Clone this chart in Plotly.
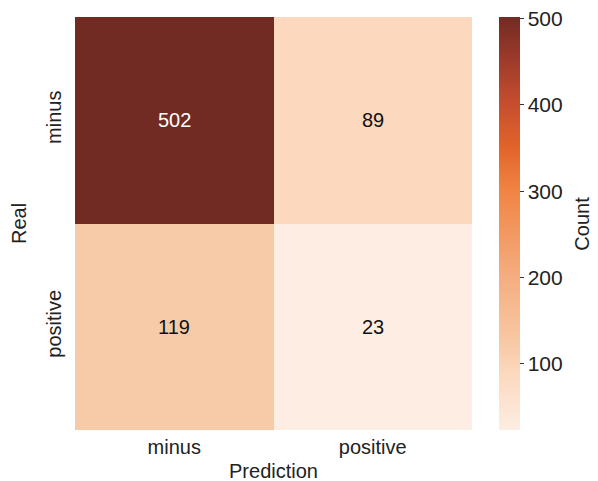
import plotly.graph_objects as go

pred_labels = ["minus", "positive"]
real_labels = ["minus", "positive"]
counts = [[502, 89], [119, 23]]

colorscale = [
    [0.0, "#fdede2"],
    [0.14, "#fcd8bd"],
    [0.20, "#f8cba8"],
    [0.37, "#f5ad80"],
    [0.58, "#f08443"],
    [0.68, "#e3652b"],
    [0.79, "#c64e2e"],
    [0.90, "#9b3a2b"],
    [1.0, "#722b22"],
]

FS = 20

fig = go.Figure(go.Heatmap(
    z=counts, x=pred_labels, y=real_labels,
    colorscale=colorscale, zmin=23, zmax=502,
    xgap=0, ygap=0,
    colorbar=dict(
        thickness=21, len=1.0, lenmode="fraction", y=0.5, yanchor="middle",
        x=1.068, xanchor="left", xpad=0, ypad=0, outlinewidth=0,
        tickvals=[100, 200, 300, 400, 500], ticks="outside", ticklen=4,
        tickcolor="#333", tickfont=dict(size=21, color="#222"),
        ticklabeloverflow="allow",
    ),
    showscale=True,
))

font_colors = [["white", "#111"], ["#111", "#111"]]
for i, r in enumerate(real_labels):
    for j, p in enumerate(pred_labels):
        fig.add_annotation(x=p, y=r, text=str(counts[i][j]), showarrow=False,
                           font=dict(size=FS, color=font_colors[i][j]))

# colorbar title
fig.add_annotation(x=1.275, y=0.5, xref="paper", yref="paper", text="Count",
                   textangle=-90, showarrow=False, xanchor="center", yanchor="middle",
                   font=dict(size=FS, color="#222"))

fig.update_layout(
    width=598, height=481,
    margin=dict(l=67, r=134, t=9, b=59),
    paper_bgcolor="white", plot_bgcolor="white",
    font=dict(family="Liberation Sans, Arial, sans-serif", color="#222"),
    xaxis=dict(title=dict(text="Prediction", font=dict(size=FS), standoff=6),
               tickfont=dict(size=FS), showgrid=False, zeroline=False, ticks="",
               ticklabelstandoff=3, automargin=False),
    yaxis=dict(title=dict(text="Real", font=dict(size=FS), standoff=11),
               tickfont=dict(size=FS), tickangle=-90, autorange="reversed",
               showgrid=False, zeroline=False, ticks="",
               ticklabelstandoff=9, automargin=False),
)

fig.write_html("out.html")
